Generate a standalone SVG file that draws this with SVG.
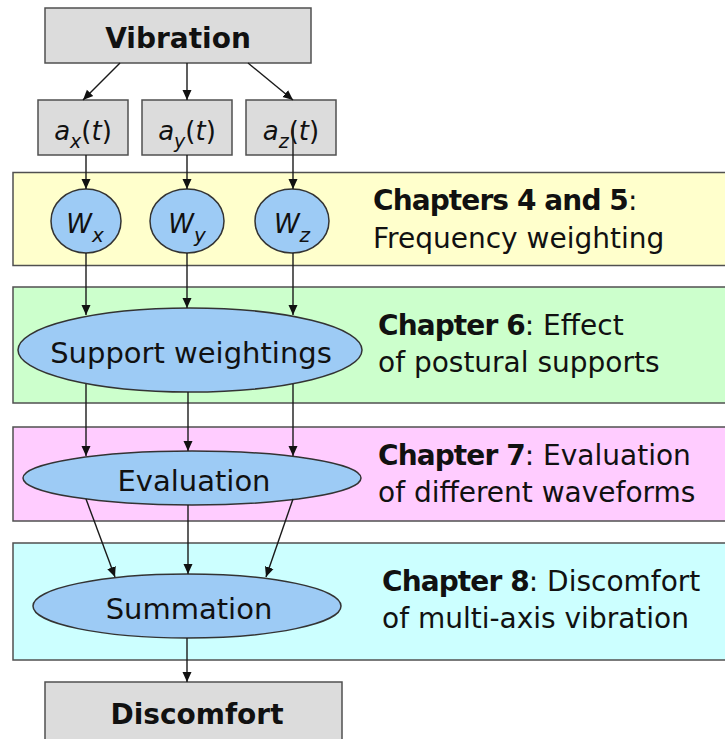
<svg xmlns="http://www.w3.org/2000/svg" width="725" height="739" viewBox="0 0 725 739">
  <defs>
    <marker id="arrow" viewBox="0 0 10 10" refX="10" refY="5" markerWidth="10" markerHeight="10" markerUnits="userSpaceOnUse" orient="auto">
      <path d="M0,0.5 L10,5 L0,9.5 Z" fill="#111"/>
    </marker>
    <style>
      .band { stroke: #505050; stroke-width: 1.5; }
      .box { fill: #dcdcdc; stroke: #505050; stroke-width: 1.5; }
      .oval { fill: #9dcbf5; stroke: #333; stroke-width: 1.5; }
      .lbl { font-family: "DejaVu Sans", Verdana, sans-serif; font-size: 29px; fill: #111; }
      .sig { font-family: "DejaVu Sans", Verdana, sans-serif; font-size: 26px; fill: #111; }
      .big { font-family: "DejaVu Sans", Verdana, sans-serif; font-size: 28px; font-weight: bold; fill: #111; }
      .note { font-family: "DejaVu Sans", Verdana, sans-serif; font-size: 28px; fill: #111; }
      .note tspan.b { font-weight: bold; letter-spacing: -0.9px; }
      .conn line { stroke: #1a1a1a; stroke-width: 1.4; marker-end: url(#arrow); }
    </style>
  </defs>
  <rect width="725" height="739" fill="#ffffff"/>

  <!-- chapter bands -->
  <g id="band-ch4-5">
    <rect class="band" x="13" y="172.5" width="720" height="93" fill="#ffffcc"/>
    <text class="note" x="373" y="210"><tspan class="b">Chapters 4 and 5</tspan>:</text>
    <text class="note" x="373" y="248">Frequency weighting</text>
  </g>
  <g id="band-ch6">
    <rect class="band" x="13" y="287" width="720" height="116" fill="#ccffcc"/>
    <text class="note" x="378" y="335"><tspan class="b">Chapter 6</tspan>: Effect</text>
    <text class="note" x="378" y="372">of postural supports</text>
  </g>
  <g id="band-ch7">
    <rect class="band" x="13" y="427" width="720" height="94" fill="#ffccff"/>
    <text class="note" x="378" y="465"><tspan class="b">Chapter 7</tspan>: Evaluation</text>
    <text class="note" x="378" y="502">of different waveforms</text>
  </g>
  <g id="band-ch8">
    <rect class="band" x="13" y="543" width="720" height="117" fill="#ccffff"/>
    <text class="note" x="382" y="591"><tspan class="b">Chapter 8</tspan>: Discomfort</text>
    <text class="note" x="382" y="628">of multi-axis vibration</text>
  </g>

  <!-- source and sink -->
  <g id="vibration">
    <rect class="box" x="45" y="8" width="266" height="55"/>
    <text class="big" x="178" y="48" text-anchor="middle">Vibration</text>
  </g>
  <g id="discomfort">
    <rect class="box" x="45" y="682" width="297" height="70"/>
    <text class="big" x="197" y="724" text-anchor="middle" font-size="29">Discomfort</text>
  </g>

  <!-- axis signals -->
  <g id="ax">
    <rect class="box" x="38" y="100" width="90" height="55"/>
    <text class="sig" x="83" y="140" text-anchor="middle"><tspan font-style="italic">a</tspan><tspan font-style="italic" font-size="19" dy="8">x</tspan><tspan dy="-8">(</tspan><tspan font-style="italic">t</tspan>)</text>
  </g>
  <g id="ay">
    <rect class="box" x="142" y="100" width="90" height="55"/>
    <text class="sig" x="187" y="140" text-anchor="middle"><tspan font-style="italic">a</tspan><tspan font-style="italic" font-size="19" dy="8">y</tspan><tspan dy="-8">(</tspan><tspan font-style="italic">t</tspan>)</text>
  </g>
  <g id="az">
    <rect class="box" x="246" y="100" width="90" height="55"/>
    <text class="sig" x="291" y="140" text-anchor="middle"><tspan font-style="italic">a</tspan><tspan font-style="italic" font-size="19" dy="8">z</tspan><tspan dy="-8">(</tspan><tspan font-style="italic">t</tspan>)</text>
  </g>

  <!-- frequency weightings -->
  <g id="wx">
    <ellipse class="oval" cx="86" cy="221" rx="35" ry="32"/>
    <text class="sig" x="85" y="233" text-anchor="middle" font-size="30"><tspan font-style="italic">W</tspan><tspan font-style="italic" font-size="20" dy="9">x</tspan></text>
  </g>
  <g id="wy">
    <ellipse class="oval" cx="187" cy="221" rx="37" ry="32"/>
    <text class="sig" x="187" y="233" text-anchor="middle" font-size="30"><tspan font-style="italic">W</tspan><tspan font-style="italic" font-size="20" dy="9">y</tspan></text>
  </g>
  <g id="wz">
    <ellipse class="oval" cx="292" cy="221" rx="37" ry="32"/>
    <text class="sig" x="292" y="233" text-anchor="middle" font-size="30"><tspan font-style="italic">W</tspan><tspan font-style="italic" font-size="20" dy="9">z</tspan></text>
  </g>

  <!-- processing stages -->
  <g id="support">
    <ellipse class="oval" cx="190" cy="350" rx="172" ry="42"/>
    <text class="lbl" x="191" y="363" text-anchor="middle">Support weightings</text>
  </g>
  <g id="evaluation">
    <ellipse class="oval" cx="192" cy="478" rx="169" ry="27"/>
    <text class="lbl" x="194" y="491" text-anchor="middle">Evaluation</text>
  </g>
  <g id="summation">
    <ellipse class="oval" cx="187" cy="606" rx="154" ry="32"/>
    <text class="lbl" x="189" y="619" text-anchor="middle">Summation</text>
  </g>

  <!-- connectors -->
  <g id="connectors" class="conn">
    <line x1="120" y1="63" x2="83" y2="100"/>
    <line x1="187" y1="63" x2="187" y2="100"/>
    <line x1="248" y1="63" x2="293" y2="100"/>

    <line x1="86" y1="155" x2="86" y2="189"/>
    <line x1="187" y1="155" x2="187" y2="189"/>
    <line x1="293" y1="127" x2="293" y2="189"/>

    <line x1="86" y1="253" x2="86" y2="315"/>
    <line x1="187" y1="253" x2="187" y2="308"/>
    <line x1="293" y1="253" x2="293" y2="315"/>

    <line x1="86" y1="384" x2="86" y2="456"/>
    <line x1="188" y1="392" x2="188" y2="451"/>
    <line x1="293" y1="384" x2="293" y2="456"/>

    <line x1="86" y1="499" x2="115" y2="577"/>
    <line x1="188" y1="505" x2="188" y2="574"/>
    <line x1="293" y1="499" x2="266" y2="577"/>

    <line x1="187" y1="638" x2="187" y2="682"/>
  </g>
</svg>
